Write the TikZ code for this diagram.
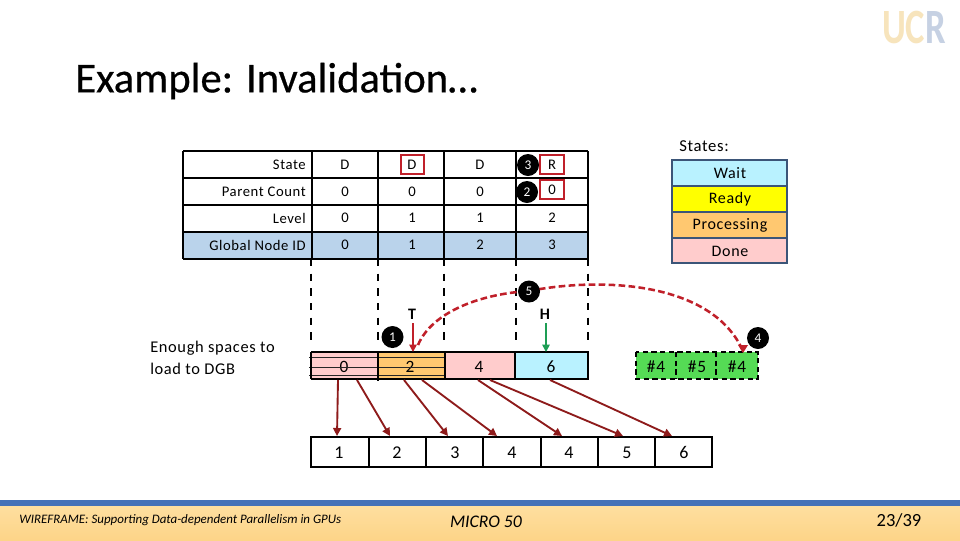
\documentclass[tikz,border=0pt]{standalone}
\usepackage{fontspec}
\setmainfont{Carlito}
\newfontfamily\wide[LetterSpace=4]{Carlito}
\newfontfamily\titlefont[FakeBold=0.5]{Carlito}
\usetikzlibrary{arrows.meta,calc}
\definecolor{cwait}{HTML}{B9F2FF}
\definecolor{cready}{HTML}{FFFF00}
\definecolor{cproc}{HTML}{FFC870}
\definecolor{cdone}{HTML}{FFCCCC}
\definecolor{cblue}{HTML}{BAD3EB}
\definecolor{cred}{HTML}{C0202A}
\definecolor{cdark}{HTML}{8E1B1B}
\definecolor{cgreen}{HTML}{1E9E55}
\definecolor{cgfill}{HTML}{55DB55}
\definecolor{cleg}{HTML}{3B5578}
\definecolor{FootTop}{HTML}{FEDF9F}
\definecolor{FootBot}{HTML}{FDD488}
\definecolor{FootBlue}{HTML}{4472B8}
\newcommand{\fs}[1]{\fontsize{#1}{#1}\selectfont}
\tikzset{
  x=0.75pt,y=-0.75pt,
  grid/.style={line width=1.6pt,black},
  vdash/.style={line width=2.2pt,black,dash pattern=on 5.5pt off 5.5pt},
  cellt/.style={inner sep=0pt,text height=7pt,text depth=0pt,font=\wide\fs{11}},
  lab/.style={inner sep=0pt,anchor=east,font=\wide\fs{11}},
  redbox/.style={draw=cred,line width=1.4pt,minimum width=17.5pt,minimum height=14pt,inner sep=0pt},
  badge/.style={circle,fill=black,text=white,minimum size=16.5pt,inner sep=0pt,font=\fs{10}},
  legt/.style={inner sep=0pt,font=\wide\fs{12}},
  botc/.style={inner sep=0pt,text height=8.6pt,text depth=0pt,font=\wide\fs{13.5}},
  dgbt/.style={inner sep=0pt,text height=8.3pt,text depth=0pt,font=\wide\fs{13}},
  fan/.style={-{Triangle[length=6pt,width=6pt]},line width=1.4pt,cdark},
  ptr/.style={-{Triangle[length=5.5pt,width=5.5pt]},line width=1.2pt},
  curve/.style={line width=1.9pt,cred,dash pattern=on 5pt off 2.5pt},
}
\begin{document}
\begin{tikzpicture}
\useasboundingbox (0,0) rectangle (960,540);
\fill[white] (0,0) rectangle (960,540);

% logo
\node[inner sep=0pt,anchor=east] (logo) at (946,28) {\scalebox{.74}[1]{\fs{37}\bfseries\textcolor[HTML]{F7E4BC}{UC}\textcolor[HTML]{C6D1E3}{R}}};

% title
\node[inner sep=0pt,anchor=west] (title) at (75,81) {\titlefont\fs{32}Example: Invalidation…};

% table
\fill[cblue] (183,232) rectangle (588,259);
\foreach \y in {151,178,205,232,259} \draw[grid] (183,\y) -- (588,\y);
\draw[grid] (183,151) -- (183,259);
\foreach \x in {312,378,444,516,588} \draw[grid] (\x,151) -- (\x,259);
\node[lab] (r1) at (306,165) {State};
\node[lab] (r2) at (306,192) {Parent Count};
\node[lab] (r3) at (306,218) {Level};
\node[lab] (r4) at (306,245) {Global Node ID};
\node[cellt] (a1) at (345,165) {D};
\node[cellt] (b1) at (412,165) {D};
\node[cellt] (c1) at (480,165) {D};
\node[cellt] (d1) at (552,165) {R};
\node[cellt] (a2) at (345,192) {0};
\node[cellt] (b2) at (412,192) {0};
\node[cellt] (c2) at (480,192) {0};
\node[cellt] (d2) at (552,190) {0};
\node[cellt] (a3) at (345,218) {0};
\node[cellt] (b3) at (412,218) {1};
\node[cellt] (c3) at (480,218) {1};
\node[cellt] (d3) at (552,218) {2};
\node[cellt] (a4) at (345,245) {0};
\node[cellt] (b4) at (412,245) {1};
\node[cellt] (c4) at (480,245) {2};
\node[cellt] (d4) at (552,245) {3};
\node[redbox] (rb1) at (412.5,164.5) {};
\node[redbox] (rb2) at (552,164.5) {};
\node[redbox] (rb3) at (552,189.5) {};
\node[badge] (n3) at (528,165) {3};
\node[badge] (n2) at (527,192) {2};

% dashed guides
\foreach \x in {311,378,444,516,588} \draw[vdash] (\x,259) -- (\x,346);

% legend
\node[inner sep=0pt,anchor=west,font=\wide\fs{12.5}] (st) at (679,146) {States:};
\draw[cleg,line width=1.1pt,fill=cwait] (672,160) rectangle (787,186);
\draw[cleg,line width=1.1pt,fill=cready] (672,186) rectangle (787,212);
\draw[cleg,line width=1.1pt,fill=cproc] (672,212) rectangle (787,238);
\draw[cleg,line width=1.1pt,fill=cdone] (672,238) rectangle (787,263);
\node[legt] (l1) at (730,173) {Wait};
\node[legt] (l2) at (730,199.5) {Ready};
\node[legt] (l3) at (730,225.5) {Processing};
\node[legt] (l4) at (730,251.5) {Done};

% side text
\node[inner sep=0pt,anchor=west,align=left,font=\wide\fontsize{12.3}{16.5}\selectfont] (spaces) at (150,357.5) {Enough spaces to\\load to DGB};

% DGB row
\fill[cdone] (311,352) rectangle (378,379);
\fill[cproc] (378,352) rectangle (445,379);
\fill[cdone] (445,352) rectangle (515,379);
\fill[cwait] (515,352) rectangle (587,379);
\node[dgbt] (g0) at (344,367) {0};
\node[dgbt] (g2) at (410,367) {2};
\node[dgbt] (g4) at (479,367) {4};
\node[dgbt] (g6) at (551,367) {6};
\foreach \y in {357.5,367,375} \draw[black!85,line width=.55pt] (309,\y) -- (445,\y);
\draw[black,line width=1.6pt] (311,352) -- (589,352);
\draw[black,line width=1.6pt] (311,379) -- (588,379) -- (588,352);
\draw[black,line width=1pt] (311,352) -- (311,379);
\draw[black,line width=1.3pt] (378,352) -- (378,381);
\draw[black,line width=1pt] (445,352) -- (445,379);
\draw[black,line width=1pt] (515,352) -- (515,379);

% green buffer
\fill[cgfill] (636,352) rectangle (758,379);
\draw[black,line width=2pt,dash pattern=on 4pt off 2.5pt] (636,352) rectangle (758,379);
\draw[black,line width=2pt,dash pattern=on 4pt off 2.5pt] (676,352) -- (676,379);
\draw[black,line width=2pt,dash pattern=on 4pt off 2.5pt] (716,352) -- (716,379);
\node[dgbt] (h1) at (656,367) {\#4};
\node[dgbt] (h2) at (697,367) {\#5};
\node[dgbt] (h3) at (737,367) {\#4};

% bottom row
\draw[black,line width=1.5pt] (311,437) rectangle (712,467);
\foreach \x in {369,426,483,541,598,655} \draw[black,line width=1.1pt] (\x,437) -- (\x,467);
\node[botc] (k1) at (339,453) {1};
\node[botc] (k2) at (397,453) {2};
\node[botc] (k3) at (455,453) {3};
\node[botc] (k4) at (512,453) {4};
\node[botc] (k5) at (569,453) {4};
\node[botc] (k6) at (627,453) {5};
\node[botc] (k7) at (684,453) {6};

% fan arrows
\foreach \n/\sx/\ex in {1/338/337,2/357/390,3/404/448,4/422/497,5/478/562,6/490/623,7/550/672}{
  \coordinate (s\n) at (\sx,380);
  \coordinate (e\n) at (\ex,436);
  \draw[fan] (s\n) -- (e\n);
}

% pointers
\node[inner sep=0pt,font=\fs{12}\bfseries] (T) at (412,314) {T};
\node[inner sep=0pt,font=\fs{12}\bfseries] (H) at (545,314) {H};
\coordinate (tend) at (413,352);
\coordinate (hend) at (546,352);
\draw[ptr,cred] (413,323) -- (tend);
\draw[ptr,cgreen] (546,323) -- (hend);

% curve
\coordinate (cs) at (418,345);
\coordinate (ce) at (743,351);
\coordinate (cm) at (529,291);
\draw[curve] (cs) .. controls (432,312) and (480,294) .. (cm);
\draw[curve] (cm) .. controls (600,277) and (712,281) .. (ce);
\fill[cred] (743,353) -- (738,345) -- (748,345) -- cycle;

\node[badge] (n1) at (392.5,337) {1};
\node[badge] (n4) at (758,338) {4};
\node[badge] (n5) at (529,291.5) {5};

% footer
\shade[top color=FootTop,bottom color=FootBot] (0,506) rectangle (960,540);
\fill[FootBlue] (0,500) rectangle (960,506);
\node[inner sep=0pt,anchor=west,font=\fs{9.7}\itshape] (f1) at (19,520.5) {WIREFRAME: Supporting Data-dependent Parallelism in GPUs};
\node[inner sep=0pt,font=\fs{13.3}\itshape] (f2) at (486,522) {MICRO 50};
\node[inner sep=0pt,font=\fs{13.9}] (f3) at (899,520) {23/39};
\end{tikzpicture}
\end{document}
